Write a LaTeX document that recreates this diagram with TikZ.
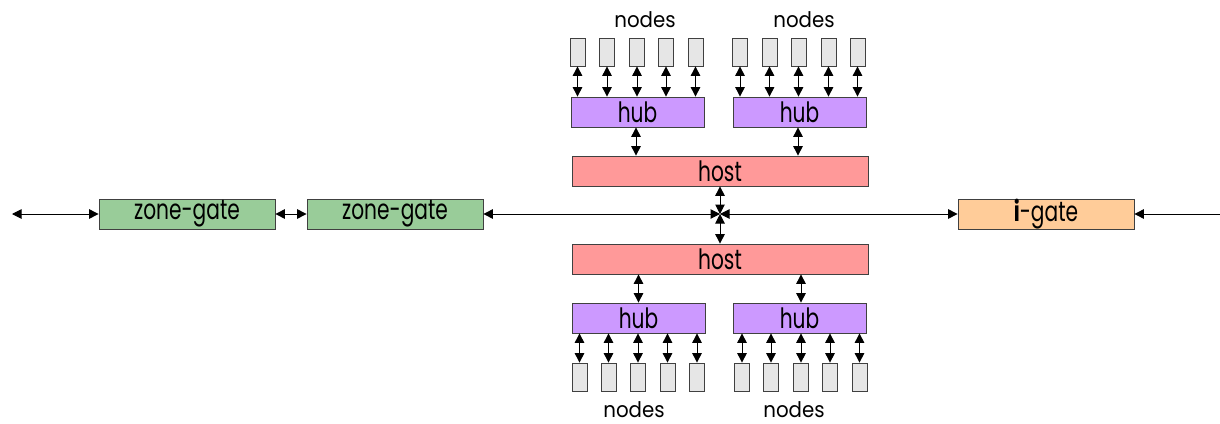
\documentclass[tikz,border=0pt]{standalone}
\usepackage{fontspec}
\setmainfont{Poppins}
\usetikzlibrary{arrows.meta}
\definecolor{nodefill}{HTML}{E6E6E6}
\definecolor{hubfill}{HTML}{CC99FF}
\definecolor{hostfill}{HTML}{FF9999}
\definecolor{zonefill}{HTML}{99CC99}
\definecolor{igatefill}{HTML}{FFCC99}
\definecolor{edge}{HTML}{404040}
\newcommand\boxtext[1]{\scalebox{0.72}[1]{\fontsize{28}{28}\selectfont #1}}
\newcommand\grouptext[1]{\scalebox{0.92}[1]{\fontsize{21.5}{21.5}\selectfont #1}}
\tikzset{
  unit/.style={draw=edge, line width=0.8pt, fill=nodefill, minimum width=15pt, minimum height=28pt, inner sep=0pt},
  wide/.style={draw=edge, line width=0.8pt, minimum height=30pt, inner sep=0pt},
  hubbox/.style={wide, fill=hubfill, minimum width=133pt},
  hostbox/.style={wide, fill=hostfill, minimum width=296pt},
  zonebox/.style={wide, fill=zonefill, minimum width=176pt},
  igatebox/.style={wide, fill=igatefill, minimum width=176pt},
  grouplabel/.style={inner sep=0pt},
  link/.style={line width=1pt, {Triangle[length=9.5pt,width=9.5pt]}-{Triangle[length=9.5pt,width=9.5pt]}},
  inlink/.style={line width=1pt, -{Triangle[length=9.5pt,width=9.5pt]}},
}
\begin{document}
\begin{tikzpicture}[x=1pt, y=-1pt]
\useasboundingbox (0,0) rectangle (1220,423);

% upper branch
\node[hostbox] (hostU) at (720,171) {\boxtext{host}};
\node[hubbox] (hubUL) at (637.5,112) {\boxtext{hub}};
\node[hubbox] (hubUR) at (799.5,112) {\boxtext{hub}};
\foreach \i/\x in {1/577.5,2/607,3/637,4/666,5/695.5} {
  \node[unit] (uL\i) at (\x,52) {};
  \draw[link] (uL\i.south) -- (uL\i.south |- hubUL.north);
}
\foreach \i/\x in {1/740,2/769.5,3/798.5,4/828.5,5/857.5} {
  \node[unit] (uR\i) at (\x,52) {};
  \draw[link] (uR\i.south) -- (uR\i.south |- hubUR.north);
}
\node[grouplabel] (labUL) at (645,20) {\grouptext{nodes}};
\node[grouplabel] (labUR) at (804,20) {\grouptext{nodes}};
\draw[link] ([xshift=-1.5pt]hubUL.south) -- ([xshift=-1.5pt]hubUL.south |- hostU.north);
\draw[link] ([xshift=-1.5pt]hubUR.south) -- ([xshift=-1.5pt]hubUR.south |- hostU.north);

% lower branch
\node[hostbox] (hostD) at (720,259) {\boxtext{host}};
\node[hubbox] (hubDL) at (638.5,318) {\boxtext{hub}};
\node[hubbox] (hubDR) at (799.5,318) {\boxtext{hub}};
\foreach \i/\x in {1/579.5,2/608.5,3/638,4/667.5,5/697} {
  \node[unit] (dL\i) at (\x,377) {};
  \draw[link] (dL\i.north) -- (dL\i.north |- hubDL.south);
}
\foreach \i/\x in {1/742,2/771,3/801,4/830,5/859.5} {
  \node[unit] (dR\i) at (\x,377) {};
  \draw[link] (dR\i.north) -- (dR\i.north |- hubDR.south);
}
\node[grouplabel] (labDL) at (634,410) {\grouptext{nodes}};
\node[grouplabel] (labDR) at (794,410) {\grouptext{nodes}};
\draw[link] (hubDL.north) -- (hubDL.north |- hostD.south);
\draw[link] ([xshift=1.5pt]hubDR.north) -- ([xshift=1.5pt]hubDR.north |- hostD.south);

% backbone
\coordinate (hub) at (720,214);
\coordinate (farL) at (12,214);
\coordinate (farR) at (1220,214);
\node[zonebox] (zg1) at (187,214) {\boxtext{zone-gate}};
\node[zonebox] (zg2) at (395,214) {\boxtext{zone-gate}};
\node[igatebox] (ig) at (1046,214) {\boxtext{\textbf{i}-gate}};

\draw[link] (farL) -- (zg1.west);
\draw[link] (zg1.east) -- (zg2.west);
\draw[link] (zg2.east) -- (hub);
\draw[link] (hub) -- (ig.west);
\draw[inlink] (farR) -- (ig.east);
\draw[link] (hostU.south) -- (hub);
\draw[link] (hub) -- (hostD.north);
\end{tikzpicture}
\end{document}
